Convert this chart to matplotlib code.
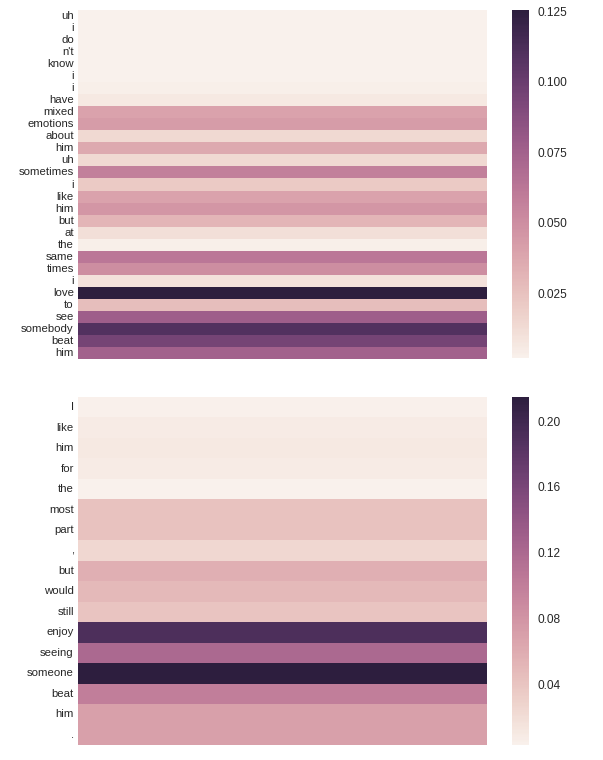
import numpy as np
import matplotlib
matplotlib.use("Agg")
import matplotlib.pyplot as plt
import seaborn as sns

words_top = ["uh", "i", "do", "n't", "know", "i", "i", "have", "mixed", "emotions",
             "about", "him", "uh", "sometimes", "i", "like", "him", "but", "at", "the",
             "same", "times", "i", "love", "to", "see", "somebody", "beat", "him"]
weights_top = [0.002, 0.002, 0.002, 0.002, 0.002, 0.002, 0.003, 0.006, 0.040, 0.043,
               0.014, 0.037, 0.014, 0.057, 0.021, 0.040, 0.046, 0.031, 0.011, 0.003,
               0.062, 0.050, 0.010, 0.1255, 0.027, 0.077, 0.110, 0.095, 0.075]
ticks_top = [0.025, 0.050, 0.075, 0.100, 0.125]
ticklabels_top = ["0.025", "0.050", "0.075", "0.100", "0.125"]

words_bot = ["I", "like", "him", "for", "the", "most", "part", ",", "but", "would",
             "still", "enjoy", "seeing", "someone", "beat", "him", "."]
weights_bot = [0.004, 0.008, 0.010, 0.008, 0.003, 0.042, 0.042, 0.025, 0.058, 0.050,
               0.040, 0.190, 0.120, 0.2147, 0.100, 0.070, 0.070]
ticks_bot = [0.04, 0.08, 0.12, 0.16, 0.20]
ticklabels_bot = ["0.04", "0.08", "0.12", "0.16", "0.20"]

sns.set_style("white")
plt.rcParams['font.family'] = ['Liberation Sans', 'DejaVu Sans']

cmap = sns.cubehelix_palette(light=0.95, as_cmap=True)

fig = plt.figure(figsize=(6.03, 7.60), dpi=100)
W, H = 603, 760

def ax_rect(x0, y0, x1, y1):
    return [x0 / W, 1 - y1 / H, (x1 - x0) / W, (y1 - y0) / H]

ax1 = fig.add_axes(ax_rect(78, 10, 487, 359))
cax1 = fig.add_axes(ax_rect(512, 10, 529, 358))
ax2 = fig.add_axes(ax_rect(78, 397, 487, 745))
cax2 = fig.add_axes(ax_rect(512, 397, 529, 745))

for ax, cax, words, weights, ticks, tl in [
        (ax1, cax1, words_top, weights_top, ticks_top, ticklabels_top),
        (ax2, cax2, words_bot, weights_bot, ticks_bot, ticklabels_bot)]:
    data = np.array(weights).reshape(-1, 1)
    sns.heatmap(data, ax=ax, cbar_ax=cax, cmap=cmap, xticklabels=False,
                yticklabels=words, cbar_kws={"ticks": ticks})
    ax.set_yticklabels(words, rotation=0, fontsize=8.2, color="#262626")
    ax.tick_params(axis="y", length=0, pad=3)
    cax.set_yticks(ticks)
    cax.set_yticklabels(tl, fontsize=8.6, color="#262626")
    cax.tick_params(length=0, pad=6)
    for s in cax.spines.values():
        s.set_visible(False)

fig.savefig("out.png", dpi=100)
